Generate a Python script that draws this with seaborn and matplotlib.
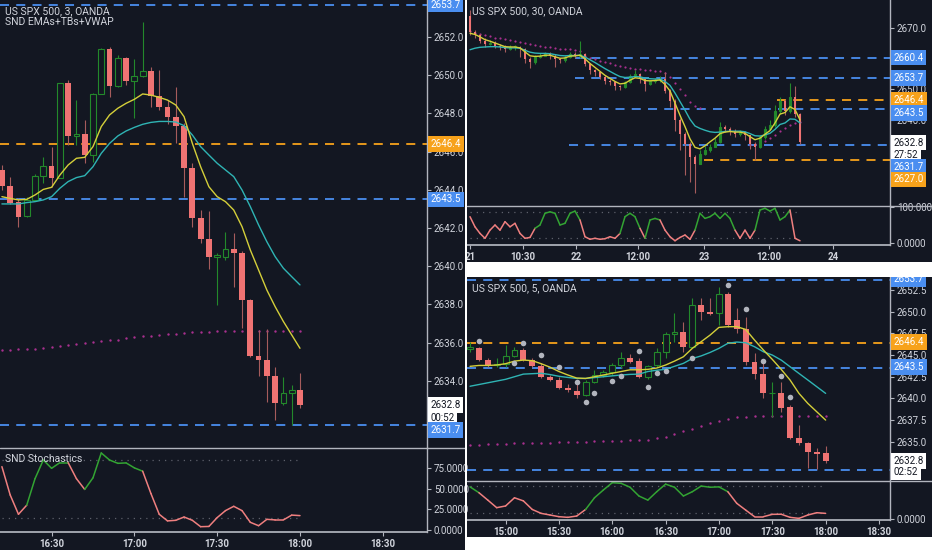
import numpy as np
import matplotlib
matplotlib.use("Agg")
import matplotlib.pyplot as plt
from matplotlib.patches import Rectangle
import seaborn as sns

sns.set_theme(style="dark")
plt.rcParams['font.family'] = ['Liberation Sans Narrow', 'Roboto', 'DejaVu Sans']

# --------------------------------------------
# DATA - left chart (3 min bars, 16:12 .. 18:00)
# --------------------------------------------
lo_open = [2645.04, 2644.22, 2643.38, 2642.63, 2643.47, 2644.74, 2645.26, 2644.64, 2649.57, 2646.80,
           2646.90, 2645.82, 2649.02, 2651.35, 2649.45, 2650.88, 2649.71, 2649.94, 2650.24, 2648.91,
           2648.32, 2647.83, 2647.34, 2645.12, 2642.51, 2641.41, 2640.50, 2640.50, 2640.88, 2640.71,
           2638.23, 2635.30, 2635.09, 2634.27, 2632.82, 2633.38, 2633.52]
lo_close = [2644.20, 2643.33, 2642.59, 2643.47, 2644.74, 2645.26, 2644.64, 2649.57, 2646.83, 2646.90,
            2645.82, 2649.02, 2651.35, 2649.45, 2650.88, 2649.71, 2649.94, 2650.24, 2648.91, 2648.32,
            2647.83, 2647.34, 2645.12, 2642.51, 2641.41, 2640.50, 2640.55, 2640.88, 2640.71, 2638.23,
            2635.30, 2635.09, 2634.27, 2632.82, 2633.38, 2633.52, 2632.75]
lo_high = [2645.30, 2644.65, 2643.55, 2643.60, 2644.83, 2645.73, 2646.26, 2649.60, 2649.75, 2648.70,
           2647.65, 2649.05, 2651.40, 2651.50, 2651.06, 2650.97, 2650.83, 2652.80, 2650.45, 2650.27,
           2648.70, 2649.36, 2647.50, 2645.39, 2642.94, 2642.91, 2640.70, 2641.81, 2641.72, 2640.80,
           2638.30, 2636.66, 2636.70, 2634.74, 2634.22, 2633.78, 2634.39]
lo_low = [2644.00, 2643.25, 2642.07, 2642.55, 2643.40, 2644.34, 2644.16, 2644.60, 2646.35, 2646.35,
          2645.39, 2645.47, 2649.00, 2648.88, 2649.40, 2649.49, 2647.74, 2649.90, 2648.35, 2648.20,
          2647.45, 2646.47, 2643.61, 2642.07, 2641.23, 2639.84, 2637.97, 2640.32, 2638.93, 2636.75,
          2635.25, 2634.25, 2632.91, 2631.95, 2632.75, 2631.69, 2632.56]
lo_ema_fast = [2643.64, 2643.55, 2643.47, 2643.50, 2643.73, 2644.02, 2644.13, 2644.77, 2645.30, 2645.65,
               2645.70, 2646.26, 2647.31, 2647.92, 2648.27, 2648.53, 2648.74, 2649.02, 2648.96, 2648.84,
               2648.70, 2648.44, 2647.83, 2646.43, 2645.21, 2644.16, 2643.64, 2643.38, 2642.94, 2642.07,
               2640.85, 2639.80, 2638.75, 2637.88, 2637.10, 2636.40, 2635.70]
lo_ema_slow = [2643.26, 2643.26, 2643.26, 2643.33, 2643.38, 2643.47, 2643.64, 2644.08, 2644.43, 2644.64,
               2644.74, 2645.21, 2645.91, 2646.43, 2646.82, 2647.08, 2647.27, 2647.43, 2647.53, 2647.58,
               2647.58, 2647.55, 2647.36, 2646.87, 2646.26, 2645.82, 2645.39, 2645.04, 2644.69, 2643.99,
               2643.12, 2642.16, 2641.28, 2640.50, 2639.89, 2639.45, 2639.02]
lo_vwap = [2635.61, 2635.61, 2635.65, 2635.67, 2635.68, 2635.70, 2635.75, 2635.81, 2635.86, 2635.94,
           2636.00, 2636.05, 2636.08, 2636.12, 2636.15, 2636.22, 2636.28, 2636.33, 2636.36, 2636.40,
           2636.43, 2636.47, 2636.50, 2636.54, 2636.55, 2636.57, 2636.59, 2636.61, 2636.61, 2636.61,
           2636.61, 2636.61, 2636.61, 2636.61, 2636.61, 2636.61, 2636.61]
lo_tb_idx = [0, 1, 2, 3, 4, 7, 8, 11, 12, 13, 14, 15, 18, 23, 24, 29, 30, 33]
lo_tb_px = [2645.40, 2645.04, 2643.75, 2642.28, 2642.94, 2644.35, 2650.15, 2645.08, 2648.68, 2651.84,
            2649.10, 2651.30, 2650.80, 2645.73, 2643.82, 2641.11, 2639.02, 2635.21]
lo_stoch = [76.5, 42.3, 19.0, 30.0, 62.0, 84.5, 74.5, 81.3, 81.3, 62.0, 49.0, 63.0, 93.0, 84.5, 80.5,
            81.0, 75.0, 71.0, 44.0, 19.0, 11.0, 11.7, 15.7, 11.7, 4.0, 4.3, 15.0, 23.4, 28.6, 23.4,
            9.3, 5.2, 12.9, 12.2, 12.2, 18.0, 17.4]
lo_stoch_up = [0, 0, 0, 1, 1, 1, 1, 1, 0, 0, 1, 1, 1, 1, 1, 1, 1, 0, 0, 0, 0, 0, 0, 0, 0, 0, 0, 0, 0, 0,
               0, 0, 0, 0, 0, 0, 0]
lo_time_pos = [6, 16, 26, 36, 46]
lo_time_lab = ["16:30", "17:00", "17:30", "18:00", "18:30"]
lo_price_ticks = [2634.0, 2636.0, 2638.0, 2640.0, 2642.0, 2644.0, 2646.0, 2648.0, 2650.0, 2652.0]

# --------------------------------------------
# DATA - top right chart (30 min, 21 .. 23)
# --------------------------------------------
tr_close = [2668.8, 2667.7, 2666.0, 2664.9, 2665.1, 2664.3, 2663.8, 2663.2, 2663.8, 2663.8,
            2663.2, 2660.0, 2658.9, 2660.6, 2661.1, 2661.7, 2661.1, 2660.0, 2659.5, 2660.6,
            2661.7, 2661.1, 2661.5, 2658.4, 2656.2, 2655.6, 2654.2, 2652.9, 2652.3, 2651.2,
            2650.7, 2652.3, 2654.5, 2655.0, 2653.4, 2651.8, 2652.6, 2653.1, 2653.4, 2649.6,
            2646.3, 2639.8, 2635.4, 2632.1, 2627.8, 2625.6, 2628.9, 2630.0, 2631.0, 2632.7,
            2637.6, 2637.1, 2636.5, 2635.4, 2636.0, 2634.9, 2632.1, 2631.0, 2634.4, 2637.1,
            2638.2, 2643.0, 2646.3, 2643.0, 2647.4, 2641.9, 2632.8]
tr_high = [2676.0, 2669.5, 2668.2, 2666.8, 2666.2, 2665.8, 2665.0, 2664.4, 2664.6, 2664.5,
           2664.3, 2663.6, 2660.5, 2661.4, 2661.8, 2662.4, 2662.2, 2661.5, 2660.4, 2661.2,
           2662.3, 2662.2, 2665.8, 2661.9, 2658.8, 2656.8, 2655.9, 2654.6, 2653.3, 2652.6,
           2651.6, 2652.9, 2655.0, 2656.2, 2655.4, 2653.6, 2653.2, 2653.8, 2654.5, 2655.6,
           2650.2, 2646.8, 2640.5, 2636.0, 2632.8, 2628.6, 2630.0, 2631.5, 2632.0, 2634.0,
           2639.2, 2638.4, 2637.6, 2637.0, 2636.8, 2636.4, 2635.2, 2632.6, 2635.2, 2638.0,
           2640.0, 2645.0, 2647.4, 2646.9, 2652.2, 2651.0, 2642.4]
tr_low = [2667.8, 2666.8, 2665.3, 2664.0, 2664.4, 2663.6, 2662.9, 2662.4, 2662.8, 2663.0,
          2660.5, 2658.6, 2657.0, 2658.4, 2660.3, 2660.8, 2659.8, 2657.2, 2658.6, 2659.0,
          2660.3, 2660.4, 2660.4, 2657.6, 2654.9, 2654.4, 2653.3, 2651.8, 2651.3, 2649.8,
          2649.7, 2650.4, 2652.0, 2654.1, 2652.2, 2649.6, 2651.3, 2652.2, 2652.4, 2648.8,
          2644.2, 2636.5, 2630.0, 2622.0, 2619.5, 2616.0, 2627.0, 2628.6, 2629.5, 2631.0,
          2632.3, 2636.0, 2635.2, 2634.4, 2634.6, 2633.4, 2630.5, 2626.8, 2630.8, 2633.6,
          2636.9, 2637.8, 2641.8, 2641.6, 2642.4, 2640.8, 2632.2]
tr_first_open = 2674.0
tr_ema_fast = [2668.4, 2668.0, 2667.2, 2666.3, 2665.8, 2665.2, 2664.6, 2664.0, 2663.9, 2663.9,
               2663.6, 2662.3, 2661.0, 2660.8, 2660.9, 2661.2, 2661.2, 2660.7, 2660.2, 2660.3,
               2660.9, 2661.0, 2661.2, 2660.0, 2658.5, 2657.2, 2655.9, 2654.6, 2653.6, 2652.6,
               2651.8, 2652.0, 2653.0, 2653.8, 2653.6, 2652.9, 2652.8, 2652.9, 2653.1, 2651.6,
               2649.5, 2645.5, 2641.5, 2637.8, 2633.8, 2631.0, 2630.5, 2631.5, 2632.8, 2634.0,
               2635.5, 2636.0, 2636.2, 2636.0, 2636.0, 2635.6, 2634.5, 2633.5, 2634.0, 2635.3,
               2636.5, 2639.0, 2641.9, 2642.4, 2644.3, 2643.4, 2640.0]
tr_ema_slow = [2663.0, 2663.5, 2663.8, 2663.9, 2664.0, 2664.0, 2663.9, 2663.7, 2663.6, 2663.6,
               2663.5, 2662.8, 2662.2, 2661.9, 2661.8, 2661.8, 2661.7, 2661.4, 2661.1, 2661.0,
               2661.1, 2661.1, 2661.2, 2660.6, 2659.7, 2658.8, 2657.8, 2656.8, 2655.9, 2655.0,
               2654.2, 2653.9, 2654.0, 2654.2, 2654.1, 2653.7, 2653.5, 2653.4, 2653.4, 2652.6,
               2651.3, 2648.8, 2646.0, 2643.2, 2640.2, 2638.0, 2637.2, 2636.6, 2636.1, 2635.9,
               2636.0, 2636.2, 2636.3, 2636.3, 2636.3, 2636.1, 2635.5, 2634.8, 2634.7, 2635.1,
               2635.6, 2636.9, 2638.5, 2639.0, 2640.3, 2640.2, 2639.0]
nan = float('nan')
tr_vwap = [2669.0, 2668.6, 2668.2, 2667.8, 2667.4, 2667.0, 2666.7, 2666.4, 2666.1, 2665.8,
           2665.5, 2665.2, 2664.9, 2664.6, 2664.3, 2664.0, 2663.8, 2663.6, 2663.4, 2663.2,
           2663.1, 2662.9, 2662.6, 2660.8, 2660.3, 2659.9, 2659.4, 2659.0, 2658.5, 2658.1,
           2657.7, 2657.3, 2657.0, 2656.8, 2656.6, 2656.4, 2656.2, 2656.0, 2655.9, 2655.4,
           2654.0, 2652.0, 2650.0, 2648.0, 2646.0, 2644.5, 2643.8, nan, nan, nan,
           nan, nan, nan, nan, nan, nan, 2631.8, 2632.1, 2632.6, 2633.2,
           2634.0, 2635.0, 2636.2, 2637.2, 2638.2, 2638.9, 2639.3]
tr_stoch = [72.7, 45, 27, 13.7, 36, 50, 36, 59, 45, 54.6,
            27, 13.7, 16, 41, 50, 82, 86, 82, 50, 54.6,
            82, 88, 63.7, 18, 11, 13.7, 11, 12.6, 18, 13.7,
            27, 72.7, 82, 72.7, 41, 13.7, 63.7, 68, 63.7, 36,
            18, 7, 16, 22.7, 11, 36, 82, 68, 72.7, 82,
            68, 82, 68, 36, 13.7, 36, 13.7, 36, 91, 95.6,
            88, 95.6, 63.7, 72.7, 91, 13.7, 7]
tr_stoch_up = [0, 0, 0, 0, 0, 0, 0, 0, 0, 0, 0, 0, 0, 1, 1, 1, 1, 1, 1, 1, 1, 1,
               0, 0, 0, 0, 0, 0, 0, 0, 1, 1, 1, 1, 0, 1, 1, 1, 0, 0, 0, 0, 0, 0, 0,
               1, 1, 1, 1, 1, 1, 1, 1, 0, 0, 0, 0, 1, 1, 1, 1, 1, 1, 1, 0, 0, 0]
tr_time_pos = [0, 10.6, 21.2, 33.6, 46.8, 59.8, 72.6]
tr_time_lab = ["21", "10:30", "22", "12:00", "23", "12:00", "24"]
tr_price_ticks = [2640.0, 2650.0, 2670.0]
# level, first bar of the drawn segment, colour key
tr_levels = [(2660.4, 21, 'b'), (2653.7, 21, 'b'), (2646.4, 61.4, 'o'),
             (2643.5, 22.6, 'b'), (2631.7, 19.8, 'b'), (2627.0, 46.8, 'o')]

# --------------------------------------------
# DATA - bottom right chart (5 min, 14:40 .. 18:00)
# --------------------------------------------
br_open = [2645.65, 2645.77, 2644.42, 2643.85, 2643.95, 2644.88, 2645.58, 2644.42, 2643.73, 2642.50,
           2642.12, 2641.20, 2640.90, 2640.38, 2641.92, 2642.69, 2643.08, 2643.85, 2644.62, 2644.35,
           2642.42, 2643.85, 2645.38, 2647.42, 2647.60, 2645.96, 2650.77, 2650.00, 2649.80, 2652.04,
           2649.04, 2647.96, 2644.23, 2642.80, 2640.58, 2640.65, 2638.96, 2635.38, 2634.80, 2633.85,
           2633.65]
br_close = [2645.96, 2644.42, 2643.85, 2643.95, 2644.88, 2645.58, 2644.42, 2643.73, 2642.50, 2642.12,
            2641.15, 2640.96, 2640.38, 2641.92, 2642.69, 2643.08, 2643.85, 2644.62, 2644.23, 2642.42,
            2643.73, 2645.38, 2647.42, 2647.60, 2645.96, 2650.77, 2650.00, 2649.73, 2652.04, 2648.46,
            2647.96, 2644.23, 2642.77, 2640.58, 2640.65, 2638.85, 2635.38, 2634.80, 2633.85, 2633.54,
            2632.75]
br_high = [2646.54, 2645.96, 2644.62, 2644.62, 2646.15, 2645.88, 2645.77, 2644.62, 2644.04, 2642.69,
           2642.50, 2641.65, 2642.12, 2642.12, 2643.27, 2643.27, 2644.04, 2645.38, 2645.12, 2644.62,
           2643.85, 2645.77, 2647.69, 2649.81, 2648.85, 2651.54, 2651.54, 2651.54, 2652.81, 2652.31,
           2650.38, 2649.42, 2645.27, 2644.12, 2641.92, 2641.92, 2639.23, 2636.92, 2635.00, 2634.23,
           2634.54]
br_low = [2645.38, 2644.35, 2643.58, 2643.58, 2643.58, 2644.73, 2644.35, 2643.58, 2642.31, 2642.04,
          2641.04, 2640.77, 2640.00, 2640.27, 2641.73, 2642.50, 2642.69, 2643.46, 2644.12, 2642.31,
          2642.19, 2643.58, 2644.62, 2646.54, 2645.38, 2645.77, 2649.04, 2649.62, 2648.46, 2648.27,
          2647.50, 2643.85, 2642.19, 2640.00, 2637.88, 2638.46, 2635.27, 2634.62, 2631.92, 2631.81,
          2632.50]
br_ema_fast = [2643.70, 2643.80, 2643.80, 2643.85, 2644.00, 2644.30, 2644.42, 2644.35, 2644.00, 2643.60,
               2643.10, 2642.70, 2642.35, 2642.30, 2642.50, 2642.70, 2642.90, 2643.10, 2643.30, 2643.30,
               2643.35, 2643.50, 2643.85, 2644.30, 2644.80, 2645.77, 2646.54, 2647.30, 2648.19, 2648.27,
               2648.27, 2647.96, 2646.73, 2645.58, 2644.50, 2643.35, 2642.12, 2640.58, 2639.42, 2638.46,
               2637.50]
br_ema_slow = [2641.40, 2641.60, 2641.80, 2642.00, 2642.20, 2642.50, 2642.80, 2642.85, 2642.90, 2642.75,
               2642.55, 2642.42, 2642.30, 2642.30, 2642.40, 2642.50, 2642.60, 2642.70, 2642.77, 2642.80,
               2643.10, 2643.25, 2643.35, 2643.70, 2644.04, 2644.60, 2644.90, 2645.30, 2645.77, 2646.35,
               2646.50, 2646.42, 2645.96, 2645.38, 2645.00, 2644.42, 2643.65, 2642.88, 2642.12, 2641.35,
               2640.58]
br_vwap = [2634.62, 2634.66, 2634.70, 2634.74, 2634.78, 2634.82, 2634.82, 2634.86, 2634.90, 2634.90,
           2634.93, 2634.97, 2635.01, 2635.01, 2635.05, 2635.05, 2635.09, 2635.13, 2635.17, 2635.20,
           2635.24, 2635.40, 2635.59, 2635.90, 2636.21, 2636.51, 2636.82, 2637.13, 2637.44, 2637.67,
           2637.82, 2637.90, 2637.94, 2637.98, 2637.98, 2637.98, 2637.98, 2637.98, 2637.98, 2637.98,
           2637.98]
br_tb_idx = [1, 5, 6, 8, 10, 12, 13, 14, 16, 17, 19, 20, 21, 22, 25, 29, 31, 33, 35, 36]
br_tb_px = [2646.65, 2644.10, 2646.42, 2645.00, 2643.58, 2641.85, 2639.54, 2640.58, 2642.00, 2642.58,
            2645.50, 2641.27, 2642.90, 2643.20, 2644.70, 2653.10, 2650.27, 2644.35, 2642.60, 2640.20]
br_stoch = [83, 68, 49, 29.6, 34, 55, 47, 25, 15, 10.8,
            6.5, 4.8, 8.2, 25, 55, 75, 93.7, 92, 82, 59.5,
            49, 70.5, 90, 82, 59.5, 70.5, 85, 82, 83, 70.5,
            40.8, 23.6, 6.5, 6.5, 12.5, 12.8, 4.8, 2.2, 10.8, 16.7, 15]
br_stoch_up = [1, 0, 0, 0, 0, 0, 0, 0, 0, 0, 0, 0, 0, 1, 1, 1, 1, 1, 1, 1, 1, 1, 1, 1, 1, 1, 1, 1, 1,
               0, 0, 0, 0, 0, 0, 0, 0, 0, 0, 0, 0]
br_time_pos = [4, 10, 16, 22, 28, 34, 40, 46]
br_time_lab = ["15:00", "15:30", "16:00", "16:30", "17:00", "17:30", "18:00", "18:30"]
br_price_ticks = [2635.0, 2637.5, 2640.0, 2642.5, 2645.0, 2647.5, 2650.0, 2652.5]

# --------------------------------------------
# STYLE
# --------------------------------------------
W, H = 932, 550
BG = '#131722'
TXT = '#d1d4dc'
AXIS = '#b2b5be'
RED = '#ef7373'
RED_WICK = '#a65c5c'
GREEN = '#23892b'
YEL = '#d4cf3a'
CYAN = '#2fb4b4'
MAG = '#a8308f'
BLUE = '#4a8ef0'
ORANGE = '#f7a21b'
S_GREEN = '#33a433'
S_RED = '#ef7f7f'
DOT = '#5d606b'

fig = plt.figure(figsize=(W / 100, H / 100), dpi=100, facecolor='white')


def fig_rect(x0, y0, x1, y1, color, z):
    r = Rectangle((x0 / W, 1 - y1 / H), (x1 - x0) / W, (y1 - y0) / H, transform=fig.transFigure,
                  facecolor=color, edgecolor='none', zorder=z)
    fig.add_artist(r)


def fig_line(x0, x1, y):
    fig.add_artist(plt.Line2D([x0 / W, x1 / W], [1 - y / H, 1 - y / H], transform=fig.transFigure,
                              color=AXIS, lw=1.0, zorder=5))


def px_axes(x0, y0, x1, y1):
    ax = fig.add_axes([x0 / W, 1 - y1 / H, (x1 - x0) / W, (y1 - y0) / H])
    ax.set_facecolor('none')
    ax.grid(False)
    for s in ax.spines.values():
        s.set_visible(False)
    ax.spines['right'].set_visible(True)
    ax.spines['right'].set_color(AXIS)
    ax.spines['right'].set_linewidth(1.0)
    ax.yaxis.tick_right()
    ax.tick_params(axis='y', colors=AXIS, labelcolor=TXT, labelsize=7, length=3, width=0.8, pad=2)
    ax.tick_params(axis='x', bottom=False, labelbottom=False)
    return ax


def draw_candles(ax, o, h, l, c, width, min_h, hollow=True):
    o, h, l, c = map(np.asarray, (o, h, l, c))
    xs = np.arange(len(o))
    up = c >= o
    ax.vlines(xs[up], l[up], h[up], color=GREEN, lw=0.8, zorder=3)
    ax.vlines(xs[~up], l[~up], h[~up], color=RED_WICK, lw=0.8, zorder=3)
    bottom = np.minimum(o, c)
    height = np.maximum(np.abs(c - o), min_h)
    ax.bar(xs[~up], height[~up], width, bottom[~up], color=RED, lw=0, zorder=4)
    ax.bar(xs[up], height[up], width, bottom[up], facecolor=BG if hollow else GREEN,
           edgecolor=GREEN, lw=0.8, zorder=4)


def draw_lines(ax, fast, slow, vwap, vwap_size):
    xs = np.arange(len(fast))
    sns.lineplot(x=xs, y=slow, ax=ax, color=CYAN, lw=1.0, zorder=5)
    sns.lineplot(x=xs, y=fast, ax=ax, color=YEL, lw=1.0, zorder=5)
    sns.scatterplot(x=xs, y=vwap, ax=ax, color=MAG, s=vwap_size, linewidth=0, zorder=2)


def draw_stoch(ax, vals, up):
    xs = np.arange(len(vals))
    ax.hlines([15, 85], xs[0], xs[-1], colors=DOT, linestyles=(0, (1, 4)), lw=0.9)
    for i in range(len(vals) - 1):
        ax.plot(xs[i:i + 2], vals[i:i + 2], color=S_GREEN if up[i] else S_RED, lw=1.1,
                solid_capstyle='round', zorder=4)


def tag(ax, y, text, kind):
    fc = {'b': BLUE, 'o': ORANGE, 'w': 'white'}[kind]
    tc = '#131722' if kind == 'w' else 'white'
    ax.annotate(text, xy=(1, y), xycoords=('axes fraction', 'data'), xytext=(2.5, 0),
                textcoords='offset points', ha='left', va='center', fontsize=7, color=tc,
                bbox=dict(boxstyle='square,pad=0.28', fc=fc, ec='none'), zorder=20,
                annotation_clip=False)


def price_ticks(ax, ticks, fmt):
    ax.set_yticks(ticks)
    ax.set_yticklabels([fmt.format(t) for t in ticks])


def time_axis(ax, pos, labels):
    ax.spines['bottom'].set_visible(True)
    ax.spines['bottom'].set_color(AXIS)
    ax.tick_params(axis='x', bottom=True, labelbottom=True, colors=AXIS, labelcolor=TXT,
                   labelsize=7, length=3, width=0.8, pad=2)
    ax.set_xticks(pos)
    ax.set_xticklabels(labels, fontweight='bold')


# panel backgrounds
fig_rect(0, 0, 465, 550, BG, -1)
fig_rect(467, 0, 932, 262, BG, -1)
fig_rect(467, 277, 932, 537, BG, -1)

# --------------------------------------------
# LEFT : US SPX 500, 3
# --------------------------------------------
ax = px_axes(0, 0, 427, 447)
for lvl, kind in [(2653.7, 'b'), (2646.4, 'o'), (2643.5, 'b'), (2631.7, 'b')]:
    ax.axhline(lvl, color=BLUE if kind == 'b' else ORANGE, ls=(0, (5, 4)), lw=1.3, zorder=1)
draw_lines(ax, lo_ema_fast, lo_ema_slow, lo_vwap, 3)
draw_candles(ax, lo_open, lo_high, lo_low, lo_close, 0.7, 0.06, hollow=True)
ax.scatter(lo_tb_idx, lo_tb_px, marker=r'$\mathrm{I}$', s=14, color='#b8bac2', linewidths=0, zorder=6)
ax.set_xlim(-0.23, 51.34)
ax.set_ylim(2630.53, 2653.94)
price_ticks(ax, lo_price_ticks, "{:.1f}")
for y, t, k in [(2653.7, '2653.7', 'b'), (2646.4, '2646.4', 'o'), (2643.5, '2643.5', 'b'),
                (2632.73, '2632.8', 'w'), (2632.07, '00:52', 'w'), (2631.42, '2631.7', 'b')]:
    tag(ax, y, t, k)

ax = px_axes(0, 448, 427, 532)
draw_stoch(ax, lo_stoch, lo_stoch_up)
ax.set_xlim(-0.23, 51.34)
ax.set_ylim(-2.4, 99)
price_ticks(ax, [0, 25, 50, 75], "{:.4f}")
time_axis(ax, lo_time_pos, lo_time_lab)
fig_line(0, 465, 447.5)

fig.text(5 / W, 1 - 11 / H, "US SPX 500, 3, OANDA", color=TXT, fontsize=7.5, va='center')
fig.text(5 / W, 1 - 22 / H, "SND EMAs+TBs+VWAP", color=TXT, fontsize=7.5, va='center')
fig.text(5 / W, 1 - 459 / H, "SND Stochastics", color=TXT, fontsize=7.5, va='center', zorder=6)

# --------------------------------------------
# TOP RIGHT : US SPX 500, 30
# --------------------------------------------
ax = px_axes(467, 0, 890, 205)
tr_open = [tr_first_open] + tr_close[:-1]
for lvl, start, kind in tr_levels:
    ax.hlines(lvl, start, 84, colors=BLUE if kind == 'b' else ORANGE, linestyles=(0, (5, 4)), lw=1.3, zorder=1)
draw_lines(ax, tr_ema_fast, tr_ema_slow, tr_vwap, 2.5)
draw_candles(ax, tr_open, tr_high, tr_low, tr_close, 0.5, 0.3, hollow=False)
ax.set_xlim(-0.6, 84)
ax.set_ylim(2612.1, 2679.3)
price_ticks(ax, tr_price_ticks, "{:.1f}")
for y, t, k in [(2660.4, '2660.4', 'b'), (2653.7, '2653.7', 'b'), (2646.5, '2646.4', 'o'),
                (2642.3, '2643.5', 'b'), (2632.5, '2632.8', 'w'), (2628.5, '27:52', 'w'),
                (2624.6, '2631.7', 'b'), (2620.5, '2627.0', 'o')]:
    tag(ax, y, t, k)

ax = px_axes(467, 206, 890, 245)
draw_stoch(ax, tr_stoch, tr_stoch_up)
ax.set_xlim(-0.6, 84)
ax.set_ylim(-4.6, 101.9)
price_ticks(ax, [0, 100], "{:.4f}")
time_axis(ax, tr_time_pos, tr_time_lab)
fig_line(467, 932, 205.5)
fig.text(472 / W, 1 - 11 / H, "US SPX 500, 30, OANDA", color=TXT, fontsize=7.5, va='center')

# --------------------------------------------
# BOTTOM RIGHT : US SPX 500, 5
# --------------------------------------------
ax = px_axes(467, 277, 890, 480)
for lvl, kind in [(2653.7, 'b'), (2646.4, 'o'), (2643.5, 'b'), (2631.7, 'b')]:
    ax.axhline(lvl, color=BLUE if kind == 'b' else ORANGE, ls=(0, (5, 4)), lw=1.3, zorder=1)
draw_lines(ax, br_ema_fast, br_ema_slow, br_vwap, 3)
draw_candles(ax, br_open, br_high, br_low, br_close, 0.66, 0.08, hollow=True)
ax.scatter(br_tb_idx, br_tb_px, marker='o', s=16, color='#b2b5be', linewidths=0, zorder=6)
ax.set_xlim(-0.34, 47.24)
ax.set_ylim(2630.59, 2654.0)
price_ticks(ax, br_price_ticks, "{:.1f}")
for y, t, k in [(2653.77, '2653.7', 'b'), (2646.5, '2646.4', 'o'), (2643.6, '2643.5', 'b'),
                (2632.8, '2632.8', 'w'), (2631.48, '02:52', 'w')]:
    tag(ax, y, t, k)

ax = px_axes(467, 481, 890, 520)
draw_stoch(ax, br_stoch, br_stoch_up)
ax.set_xlim(-0.34, 47.24)
ax.set_ylim(-2, 98)
price_ticks(ax, [0], "{:.4f}")
time_axis(ax, br_time_pos, br_time_lab)
fig_line(467, 932, 480.5)
fig.text(472 / W, 1 - 288 / H, "US SPX 500, 5, OANDA", color=TXT, fontsize=7.5, va='center')

# white gaps between the three charts
fig_rect(465, 0, 467, 550, 'white', 30)
fig_rect(467, 262, 932, 277, 'white', 30)
fig_rect(467, 537, 932, 550, 'white', 30)

fig.savefig("out.png", dpi=100, facecolor='white')
